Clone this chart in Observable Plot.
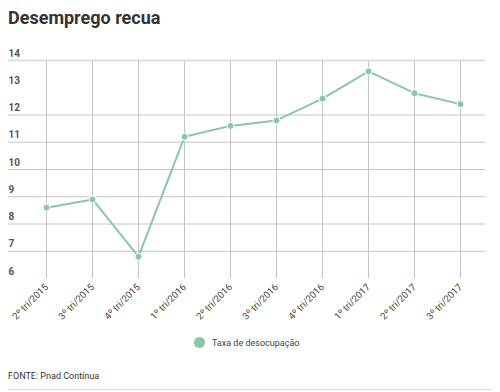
<!DOCTYPE html>
<html>
<head>
<meta charset="utf-8">
<script src="https://cdn.jsdelivr.net/npm/d3@7"></script>
<script src="https://cdn.jsdelivr.net/npm/@observablehq/plot@0.6"></script>
<style>
  html, body { margin: 0; padding: 0; background: #fff; }
  body { width: 500px; height: 392px; position: relative; overflow: hidden; font-family: Roboto, sans-serif; }
  #title { position: absolute; left: 8px; top: 7px; font-size: 18px; font-weight: bold; color: #333; margin: 0; line-height: 22px; }
  #chart { position: absolute; left: 0; top: 0; }
  #legend { position: absolute; left: 194px; top: 337px; display: flex; align-items: center; font-size: 9px; color: #444; }
  #legend .sw { width: 11px; height: 11px; border-radius: 50%; background: #88c8a2; margin-right: 7px; }
  #footer { position: absolute; left: 8px; top: 371px; font-size: 9px; color: #333; }
  #rule { position: absolute; left: 8px; top: 389px; width: 484px; height: 1px; background: #ddd; }
</style>
</head>
<body>
<div id="title">Desemprego recua</div>
<div id="chart"></div>
<div id="legend"><span class="sw"></span><span>Taxa de desocupação</span></div>
<div id="footer">FONTE: Pnad Contínua</div>
<div id="rule"></div>
<script>
const categories = ["2º tri/2015", "3º tri/2015", "4º tri/2015", "1º tri/2016", "2º tri/2016", "3º tri/2016", "4º tri/2016", "1º tri/2017", "2º tri/2017", "3º tri/2017"];
const taxa = [8.6, 8.9, 6.8, 11.2, 11.6, 11.8, 12.6, 13.6, 12.8, 12.4];
const yTicks = [6, 7, 8, 9, 10, 11, 12, 13, 14];
const gridValues = [7, 8, 9, 10, 11, 12];
const seriesName = "Taxa de desocupação";

const data = categories.map((c, i) => ({ tri: c, value: taxa[i] }));
const color = "#88c8a2";

const chart = Plot.plot({
  width: 500,
  height: 330,
  marginTop: 60,
  marginBottom: 52,
  marginLeft: 8,
  marginRight: 15,
  style: { fontFamily: "Roboto, sans-serif", background: "transparent" },
  x: { type: "point", domain: categories, range: [45.5, 460], padding: 0 },
  y: { domain: [6, 14] },
  marks: [
    Plot.ruleY(gridValues, { stroke: "#c4c4c4", strokeWidth: 1 }),
    Plot.ruleX(categories, { y1: 6, y2: 14, stroke: "#c4c4c4", strokeWidth: 1 }),
    Plot.ruleY([14], { stroke: "#dddddd", strokeWidth: 2 }),
    Plot.axisY({ ticks: yTicks, tickSize: 0, tickPadding: 0, textAnchor: "start", dx: 0, dy: -7, fontSize: 10, fontWeight: "bold", fill: "#555", label: null }),
    Plot.axisX({ tickSize: 0, tickPadding: 7, tickRotate: -45, fontSize: 9.5, fill: "#444", label: null }),
    Plot.line(data, { x: "tri", y: "value", stroke: color, strokeWidth: 2 }),
    Plot.dot(data, { x: "tri", y: "value", r: 3.5, fill: color, stroke: "#fff", strokeWidth: 1 })
  ]
});
document.getElementById("chart").appendChild(chart);
</script>
</body>
</html>
